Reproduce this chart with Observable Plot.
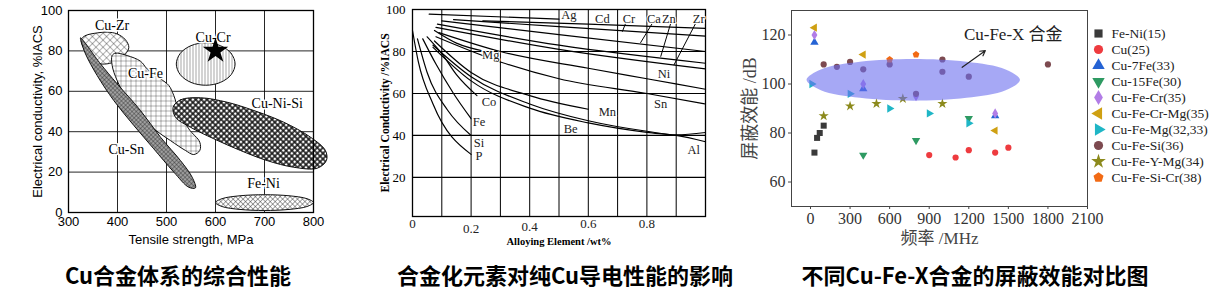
<!DOCTYPE html>
<html><head><meta charset="utf-8">
<script src="https://cdn.jsdelivr.net/npm/d3@7"></script>
<script src="https://cdn.jsdelivr.net/npm/@observablehq/plot@0.6"></script>
<style>
body{margin:0;background:#fff;}
#wrap{position:relative;width:1221px;height:298px;overflow:hidden;background:#fff}
.panel{position:absolute;top:0}
.panel svg{overflow:visible}
.cap{position:absolute;top:263px;font-family:"Noto Sans CJK SC";font-weight:700;font-size:22px;line-height:22px;white-space:nowrap;transform:translateX(-50%);color:#000}
</style></head><body><div id="wrap"></div>
<script>
// ---------------- Panel 1: Cu alloy systems ----------------
const tensileTicks = [300, 400, 500, 600, 700, 800];
const condTicks = [0, 20, 40, 60, 80, 100];
const cuZrX = [325.8, 334.7, 358.5, 378.9, 399.3, 416.3, 423.1, 416.3, 399.3, 378.9, 358.5, 341.5, 331.3];
const cuZrY = [85.5, 87.6, 88.9, 89.3, 88.4, 85.5, 81.8, 78.5, 75.2, 73.6, 73.9, 76.9, 81.0];
const cuFeX = [389.1, 395.9, 419.7, 446.9, 460.5, 487.7, 504.7, 514.9, 525.1, 545.5, 567.9, 567.9, 555.7, 538.7, 508.1, 474.1, 446.9, 419.7, 399.3, 389.1];
const cuFeY = [77.7, 78.9, 77.7, 74.9, 71.1, 66.2, 62.9, 57.9, 50.5, 41.4, 34.8, 30.7, 28.7, 30.7, 35.6, 41.4, 48.0, 56.3, 65.3, 72.8];
const cuSnX = [324.5, 365.3, 399.3, 446.9, 487.7, 528.5, 552.3, 559.1, 545.5, 514.9, 474.1, 433.3, 392.5, 358.5, 334.7, 326.5];
const cuSnY = [86.5, 73.6, 63.7, 50.5, 37.3, 25.7, 17.5, 12.2, 12.5, 20.0, 31.5, 43.1, 55.4, 67.8, 78.5, 84.3];
const cuCrX = [640, 632, 610, 580, 550, 528, 520, 528, 550, 580, 610, 632];
const cuCrY = [73.5, 78.75, 82.6, 84, 82.6, 78.75, 73.5, 68.25, 64.4, 63, 64.4, 68.25];
const cuNiSiX = [513.5, 528.5, 569.3, 623.7, 678.1, 739.3, 793.7, 824.3, 826.3, 807.3, 759.7, 705.3, 650.9, 596.5, 548.9, 518.3];
const cuNiSiY = [52.1, 55.8, 56.8, 54.6, 50.5, 44.7, 37.3, 30.7, 25.7, 21.9, 22.4, 25.7, 30.7, 36.5, 42.2, 47.2];
const feNiX = [800, 786.6, 750, 700, 650, 613.4, 600, 613.4, 650, 700, 750, 786.6];
const feNiY = [4.9, 6.85, 8.28, 8.8, 8.28, 6.85, 4.9, 2.95, 1.52, 1.0, 1.52, 2.95];
const alloyLabels = ["Cu-Zr", "Cu-Cr", "Cu-Fe", "Cu-Ni-Si", "Cu-Sn", "Fe-Ni"];
const alloyLabelX = [389, 595, 457, 726, 418, 698];
const alloyLabelY = [92.6, 86.6, 68.6, 53.8, 31.4, 14.2];
const starX = [600], starY = [80];

// ---------------- Panel 2: alloying elements ----------------
const wtTicks = [0, 0.2, 0.4, 0.6, 0.8];
const wtGrid = [0.1, 0.2, 0.3, 0.4, 0.5, 0.6, 0.7, 0.8, 0.9];
const iacsTicks = [20, 40, 60, 80, 100];
const agX = [0.057, 0.5], agY = [97.8, 95.4];
const cdX = [0.24, 0.6, 1.0], cdY = [94.6, 93, 91];
const crX = [0.14, 0.5, 1.0], crY = [95.2, 91.8, 87.3];
const caX = [0.1, 0.5, 1.0], caY = [94.6, 88, 80];
const znX = [0.085, 0.5, 1.0], znY = [93, 83, 74.4];
const zrX = [0.08, 0.5, 1.0], zrY = [91.5, 81, 71.7];
const mgX = [0.075, 0.15, 0.25], mgY = [90, 84, 80];
const niX = [0.09, 0.3, 0.6, 0.8, 1.0], niY = [89, 80, 72, 67, 62];
const snX = [0.08, 0.3, 0.5, 0.8, 1.0], snY = [87, 75, 67, 60, 55];
const mnX = [0.075, 0.2, 0.4, 0.6], mnY = [85, 70, 59, 52.5];
const beX = [0.07, 0.2, 0.4, 0.6, 0.8, 0.9, 1.0], beY = [83, 68, 55, 47, 42, 40.3, 41.4];
const alX = [0.07, 0.2, 0.4, 0.6, 0.8, 0.9, 1.0], alY = [82, 66, 53, 46, 41.5, 40, 37];
const coX = [0.05, 0.1, 0.15, 0.22], coY = [87, 79, 69, 59];
const feX = [0.035, 0.08, 0.14, 0.2], feY = [86, 74, 60, 48];
const siX = [0.017, 0.05, 0.12, 0.2], siY = [86, 70, 52, 40];
const pX = [0, 0.02, 0.07, 0.2], pY = [90, 75, 55, 31];
const elemNames = ["Ag", "Cd", "Cr", "Ca", "Zn", "Zr", "Mg", "Ni", "Co", "Mn", "Sn", "Fe", "Be", "Si", "P", "Al"];
const elemLabelX = [0.534, 0.648, 0.739, 0.824, 0.875, 0.977, 0.267, 0.858, 0.261, 0.665, 0.847, 0.227, 0.54, 0.227, 0.227, 0.96];
const elemLabelY = [97.3, 95.7, 95.7, 95.7, 95.7, 95.7, 78.3, 69.5, 56, 51.3, 55.2, 46.5, 43.3, 36.4, 30.4, 33];
const leaderX1 = [0.727, 0.818, 0.881, 0.966], leaderY1 = [93.3, 93.3, 93.3, 93.3];
const leaderX2 = [0.716, 0.778, 0.847, 0.892], leaderY2 = [89.4, 84.1, 77.5, 73.5];

// ---------------- Panel 3: shielding effectiveness ----------------
const freqTicks = [0, 300, 600, 900, 1200, 1500, 1800, 2100];
const seTicks = [60, 80, 100, 120];
const seriesNames = ["Fe-Ni(15)", "Cu(25)", "Cu-7Fe(33)", "Cu-15Fe(30)", "Cu-Fe-Cr(35)", "Cu-Fe-Cr-Mg(35)", "Cu-Fe-Mg(32,33)", "Cu-Fe-Si(36)", "Cu-Fe-Y-Mg(34)", "Cu-Fe-Si-Cr(38)"];
const seriesColors = ["#3a3a3a", "#ee3b3f", "#2563d4", "#2e9a62", "#b27de6", "#cfa012", "#1fb6c6", "#7d4a50", "#8c8a1c", "#f26a14"];
const feNiF = [30, 50, 70, 100], feNiSE = [72, 78, 80, 83];
const cuF = [900, 1100, 1200, 1400, 1500], cuSE = [71, 70, 73, 72, 74];
const cu7FeF = [30, 400, 1400], cu7FeSE = [117, 98, 87];
const cu15FeF = [400, 800, 1200], cu15FeSE = [71, 77, 86];
const cuFeCrF = [30, 400, 800, 1400], cuFeCrSE = [120, 100, 95, 88];
const cuFeCrMgF = [30, 400, 1400], cuFeCrMgSE = [123, 112, 81];
const cuFeMgF = [10, 300, 600, 900, 1200], cuFeMgSE = [100, 96, 90, 88, 84];
const cuFeSiF = [100, 200, 300, 400, 600, 800, 1000, 1000, 1200, 1800], cuFeSiSE = [108, 107, 109, 106, 108, 96, 110, 105, 103, 108];
const cuFeYMgF = [100, 300, 500, 700, 1000], cuFeYMgSE = [87, 91, 92, 94, 92];
const cuFeSiCrF = [600, 800], cuFeSiCrSE = [110, 112];
const ellipseF = [1588, 1479.6, 1183.5, 779, 374.5, 78.4, -30, 78.4, 374.5, 779, 1183.5, 1479.6];
const ellipseSE = [101.7, 105.95, 109.06, 110.2, 109.06, 105.95, 101.7, 97.45, 94.34, 93.2, 94.34, 97.45];
const arrowF = [1150, 1325], arrowSE = [106.8, 113.6];
const annoText = "Cu-Fe-X 合金", annoF = 1537, annoSE = 120.2;

const captions = ["Cu合金体系的综合性能", "合金化元素对纯Cu导电性能的影响", "不同Cu-Fe-X合金的屏蔽效能对比图"];

// ---------------- helpers ----------------
const zipXY = (xs, ys, extra = {}) => xs.map((x, i) => ({x, y: ys[i], ...extra}));
const wrap = document.getElementById("wrap");
function place(node, left, top) {
  const d = document.createElement("div");
  d.className = "panel"; d.style.left = left + "px"; d.style.top = top + "px";
  d.appendChild(node); wrap.appendChild(d);
}

const defs = () => {
  const g = document.createElementNS("http://www.w3.org/2000/svg", "g");
  g.innerHTML = `<defs>
  <pattern id="pZr" width="5" height="5" patternUnits="userSpaceOnUse" patternTransform="rotate(45)"><rect width="5" height="5" fill="#fff"/><path d="M0 0H5M0 0V5" stroke="#222" stroke-width="0.7"/></pattern>
  <pattern id="pFe" width="5" height="5" patternUnits="userSpaceOnUse"><rect width="5" height="5" fill="#fff"/><path d="M0 0H5M0 0V5" stroke="#222" stroke-width="0.7"/></pattern>
  <pattern id="pSn" width="3" height="3" patternUnits="userSpaceOnUse" patternTransform="rotate(45)"><rect width="3" height="3" fill="#a0a0a0"/><path d="M0 0H3M0 0V3" stroke="#1a1a1a" stroke-width="0.7"/></pattern>
  <pattern id="pCr" width="3" height="3" patternUnits="userSpaceOnUse"><rect width="3" height="3" fill="#fff"/><path d="M0 0V3" stroke="#222" stroke-width="0.8"/></pattern>
  <pattern id="pNiSi" width="4" height="4" patternUnits="userSpaceOnUse" patternTransform="rotate(45)"><rect width="4" height="4" fill="#111"/><rect x="0.8" y="0.8" width="2.5" height="2.5" fill="#fff"/></pattern>
  <pattern id="pFeNi" width="3.5" height="3.5" patternUnits="userSpaceOnUse" patternTransform="rotate(45)"><rect width="3.5" height="3.5" fill="#fff"/><path d="M0 0H3.5M0 0V3.5" stroke="#222" stroke-width="0.8"/></pattern>
  </defs>`;
  return g;
};

const blob = (xs, ys, pat) => Plot.line(zipXY(xs, ys), {x: "x", y: "y", curve: "catmull-rom-closed", fill: `url(#${pat})`, stroke: "#111", strokeWidth: 1});

// ---------------- Chart 1 ----------------
const c1 = Plot.plot({
  width: 330, height: 250,
  marginLeft: 68, marginRight: 17, marginTop: 10, marginBottom: 38,
  x: {domain: [300, 800], axis: null}, y: {domain: [0, 100], axis: null},
  style: {fontFamily: "Liberation Sans, Arial, sans-serif", fontSize: "13px", color: "#000", background: "transparent"},
  marks: [
    defs,
    Plot.gridX(tensileTicks.slice(1, -1), {stroke: "#000", strokeOpacity: 0.85, strokeWidth: 1}),
    Plot.gridY(condTicks.slice(1, -1), {stroke: "#000", strokeOpacity: 0.85, strokeWidth: 1}),
    blob(cuZrX, cuZrY, "pZr"),
    blob(cuFeX, cuFeY, "pFe"),
    blob(cuSnX, cuSnY, "pSn"),
    blob(cuCrX, cuCrY, "pCr"),
    blob(cuNiSiX, cuNiSiY, "pNiSi"),
    blob(feNiX, feNiY, "pFeNi"),
    Plot.frame({stroke: "#000", strokeWidth: 1.3}),
    Plot.axisX({ticks: tensileTicks, tickSize: 0, tickPadding: 4, fontSize: 13, label: null}),
    Plot.axisY({ticks: condTicks, tickSize: 0, tickPadding: 6, fontSize: 13, label: null}),
    Plot.text(["Tensile strength, MPa"], {frameAnchor: "bottom", lineAnchor: "middle", dy: 27, fontSize: 13}),
    Plot.text(["Electrical conductivity, %IACS"], {frameAnchor: "left", textAnchor: "middle", rotate: -90, dx: -31, fontSize: 13}),
    Plot.text(alloyLabels, {x: (d, i) => alloyLabelX[i], y: (d, i) => alloyLabelY[i], text: d => d, fontFamily: "Liberation Serif, serif", fontSize: 14, stroke: "#fff", strokeWidth: 3, fill: "#000"}),
    Plot.dot(zipXY(starX, starY), {x: "x", y: "y", symbol: "star", r: 8, fill: "#000", stroke: "none"})
  ]
});
place(c1, 0, 0);

// ---------------- Chart 2 ----------------
const curves = [
  ["Ag", agX, agY], ["Cd", cdX, cdY], ["Cr", crX, crY], ["Ca", caX, caY], ["Zn", znX, znY], ["Zr", zrX, zrY],
  ["Mg", mgX, mgY], ["Ni", niX, niY], ["Sn", snX, snY], ["Mn", mnX, mnY], ["Be", beX, beY], ["Al", alX, alY],
  ["Co", coX, coY], ["Fe", feX, feY], ["Si", siX, siY], ["P", pX, pY]
].flatMap(([el, xs, ys]) => zipXY(xs, ys, {el}));
const leaders = leaderX1.map((x1, i) => ({x1, y1: leaderY1[i], x2: leaderX2[i], y2: leaderY2[i]}));
const c2 = Plot.plot({
  width: 360, height: 255,
  marginLeft: 52, marginRight: 15, marginTop: 9, marginBottom: 39,
  x: {domain: [0, 1], axis: null}, y: {domain: [1.4, 100], axis: null},
  style: {fontFamily: "Liberation Serif, Times New Roman, serif", fontSize: "13px", color: "#000", background: "transparent"},
  marks: [
    Plot.gridX(wtGrid, {stroke: "#000", strokeOpacity: 1, strokeWidth: 1}),
    Plot.gridY(iacsTicks.slice(0, -1), {stroke: "#000", strokeOpacity: 1, strokeWidth: 1.2}),
    Plot.frame({stroke: "#000", strokeWidth: 1.3}),
    Plot.line(curves, {x: "x", y: "y", z: "el", curve: "monotone-x", stroke: "#000", strokeWidth: 1.2}),
    Plot.link(leaders, {x1: "x1", y1: "y1", x2: "x2", y2: "y2", stroke: "#000", strokeWidth: 1}),
    Plot.text(elemNames, {x: (d, i) => elemLabelX[i], y: (d, i) => elemLabelY[i], text: d => d, fontSize: 12.5, fill: "#222", stroke: "#fff", strokeWidth: 2}),
    Plot.axisY({ticks: iacsTicks, tickSize: 0, tickPadding: 7, fontSize: 13, label: null}),
    Plot.text(wtTicks.filter(d => d === 0 || d >= 0.6), {x: d => d, text: d => String(d), frameAnchor: "bottom", dy: 11, fontSize: 13, fill: "#222"}),
    Plot.text(wtTicks.filter(d => d === 0.4), {x: d => d, text: d => String(d), frameAnchor: "bottom", dy: 14, fontSize: 13, fill: "#222"}),
    Plot.text(wtTicks.filter(d => d === 0.2), {x: d => d, text: d => String(d), frameAnchor: "bottom", dy: 16, fontSize: 13, fill: "#222"}),
    Plot.text(["Alloying Element /wt%"], {frameAnchor: "bottom", dy: 28, fontSize: 10.5, fontWeight: "bold"}),
    Plot.text(["Electrical Conductivity /%IACS"], {frameAnchor: "left", textAnchor: "middle", rotate: -90, dx: -27, fontSize: 11.5, fontWeight: "bold"})
  ]
});
place(c2, 360, 0);

// ---------------- Chart 3 ----------------
const pentagon = {draw(ctx, size) {
  const r = Math.sqrt(size / 2.3776);
  for (let i = 0; i < 5; i++) {
    const a = -Math.PI / 2 + i * 2 * Math.PI / 5;
    const px = r * Math.cos(a), py = r * Math.sin(a);
    i ? ctx.lineTo(px, py) : ctx.moveTo(px, py);
  }
  ctx.closePath();
}};
const seriesSymbols = ["square", "circle", "triangle", "triangle", "diamond", "triangle", "triangle", "circle", "star", pentagon];
const seriesRotate = [0, 0, 0, 180, 0, -90, 90, 0, 0, 0];
const seriesData = [[feNiF, feNiSE], [cuF, cuSE], [cu7FeF, cu7FeSE], [cu15FeF, cu15FeSE], [cuFeCrF, cuFeCrSE], [cuFeCrMgF, cuFeCrMgSE], [cuFeMgF, cuFeMgSE], [cuFeSiF, cuFeSiSE], [cuFeYMgF, cuFeYMgSE], [cuFeSiCrF, cuFeSiCrSE]];
const seriesMarks = seriesData.map(([fs, ss], k) => Plot.dot(zipXY(fs, ss), {
  x: "x", y: "y", symbol: seriesSymbols[k], rotate: seriesRotate[k], fill: seriesColors[k], stroke: "none",
  r: k === 0 ? 3.4 : (k === 8 ? 3.2 : 3.1)
}));
const c3 = Plot.plot({
  width: 380, height: 255,
  marginLeft: 61, marginRight: 23, marginTop: 10, marginBottom: 49,
  x: {domain: [-144, 2100], axis: null}, y: {domain: [50, 130], axis: null},
  style: {fontFamily: "Liberation Serif, Times New Roman, Noto Sans CJK SC, serif", fontSize: "16px", color: "#333", background: "transparent"},
  marks: [
    ...seriesMarks,
    Plot.line(zipXY(ellipseF, ellipseSE), {x: "x", y: "y", curve: "catmull-rom-closed", fill: "#6b6eee", fillOpacity: 0.6, stroke: "none"}),
    Plot.arrow([{x1: arrowF[0], y1: arrowSE[0], x2: arrowF[1], y2: arrowSE[1]}], {x1: "x1", y1: "y1", x2: "x2", y2: "y2", stroke: "#222", strokeWidth: 1.2, headLength: 7}),
    Plot.text([annoText], {x: annoF, y: annoSE, fontSize: 17, fill: "#222"}),
    Plot.frame({stroke: "#444", strokeWidth: 1}),
    Plot.axisX({ticks: freqTicks, tickFormat: d => String(d), tickSize: 3, tickPadding: 3, fontSize: 16, label: null, stroke: "#444"}),
    Plot.axisY({ticks: seTicks, tickFormat: d => String(d), tickSize: 3, tickPadding: 3, fontSize: 16, label: null, stroke: "#444"}),
    Plot.text(["频率 /MHz"], {frameAnchor: "bottom", lineAnchor: "middle", dy: 32, fontSize: 17, fill: "#444"}),
    Plot.text(["屏蔽效能 /dB"], {frameAnchor: "left", textAnchor: "middle", rotate: -90, dx: -41, fontSize: 18, fill: "#444"})
  ]
});
place(c3, 730, 0);

// ---------------- Legend ----------------
const lg = Plot.plot({
  width: 131, height: 180, margin: 0,
  y: {type: "point", domain: seriesNames, range: [9, 171], axis: null},
  x: {axis: null},
  style: {fontFamily: "Liberation Serif, Times New Roman, serif", fontSize: "13.5px", color: "#222", background: "transparent"},
  marks: seriesNames.map((name, k) => Plot.dot([name], {y: d => d, frameAnchor: "left", dx: 10, symbol: seriesSymbols[k], rotate: seriesRotate[k], fill: seriesColors[k], stroke: "none", r: 4.6}))
    .concat([Plot.text(seriesNames, {y: d => d, text: d => d, frameAnchor: "left", textAnchor: "start", dx: 23, fontSize: 13.5, fill: "#222"})])
});
place(lg, 1088, 15);

// ---------------- Captions ----------------
const capCenters = [178, 565, 975];
captions.forEach((t, i) => {
  const d = document.createElement("div");
  d.className = "cap"; d.style.left = capCenters[i] + "px"; d.textContent = t;
  wrap.appendChild(d);
});
</script></body></html>
